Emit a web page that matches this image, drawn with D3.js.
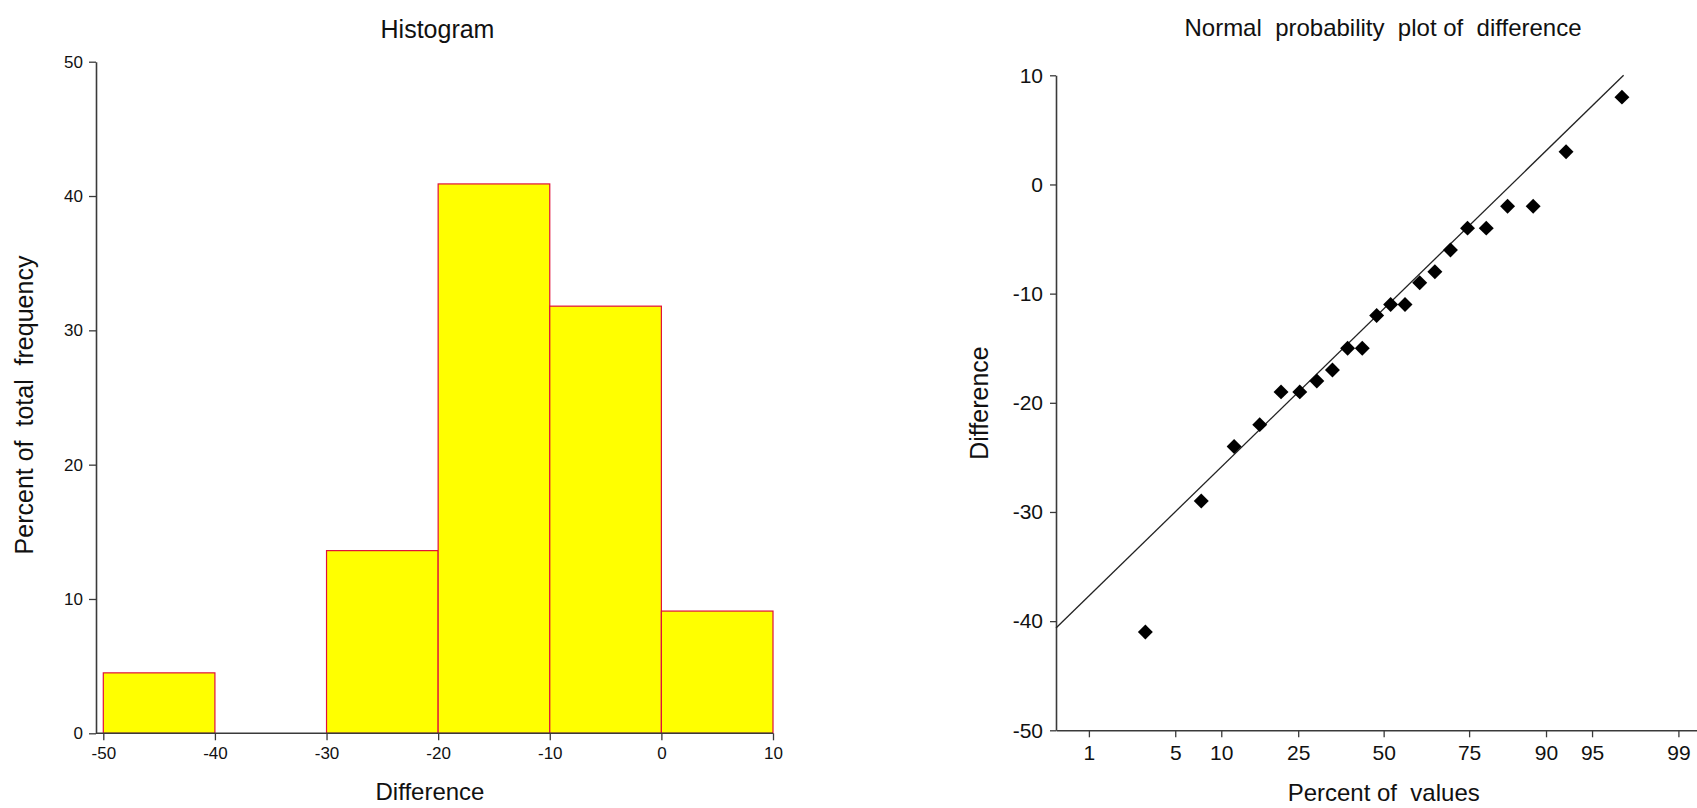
<!DOCTYPE html>
<html>
<head>
<meta charset="utf-8">
<script src="https://cdn.jsdelivr.net/npm/d3@7"></script>
<style>
  html, body { margin: 0; padding: 0; background: #fff; }
  svg { display: block; font-family: "Liberation Sans", Arial, sans-serif; }
  text { white-space: pre; }
</style>
</head>
<body>
<svg id="chart" width="1697" height="808"></svg>
<script>
// ---------- Data ----------
const binStarts = [-50, -40, -30, -20, -10, 0];
const binWidth = 10;
const binPercents = [4.5, 0, 13.6, 40.9, 31.8, 9.1];
const histXTicks = [-50, -40, -30, -20, -10, 0, 10];
const histYTicks = [0, 10, 20, 30, 40, 50];

const differences = [-41, -29, -24, -22, -19, -19, -18, -17, -15, -15, -12, -11, -11, -9, -8, -6, -4, -4, -2, -2, 3, 8];
const percentOfValues = [3.0, 7.5, 11.9, 16.4, 20.9, 25.4, 29.9, 34.3, 38.8, 43.3, 47.8, 52.2, 56.7, 61.2, 65.7, 70.1, 74.6, 79.1, 83.6, 88.1, 92.5, 97.0];
const probXTicks = [1, 5, 10, 25, 50, 75, 90, 95, 99];
const probYTicks = [-50, -40, -30, -20, -10, 0, 10];
const lineMean = -11.4;
const lineSD = 11.3;

// ---------- helpers ----------
function probit(p) {
  const a = [-3.969683028665376e+01, 2.209460984245205e+02, -2.759285104469687e+02, 1.383577518672690e+02, -3.066479806614716e+01, 2.506628277459239e+00];
  const b = [-5.447609879822406e+01, 1.615858368580409e+02, -1.556989798598866e+02, 6.680131188771972e+01, -1.328068155288572e+01];
  const c = [-7.784894002430293e-03, -3.223964580411365e-01, -2.400758277161838e+00, -2.549732539343734e+00, 4.374664141464968e+00, 2.938163982698783e+00];
  const d = [7.784695709041462e-03, 3.224671290700398e-01, 2.445134137142996e+00, 3.754408661907416e+00];
  const plow = 0.02425;
  let q, r;
  if (p < plow) {
    q = Math.sqrt(-2 * Math.log(p));
    return (((((c[0]*q+c[1])*q+c[2])*q+c[3])*q+c[4])*q+c[5]) / ((((d[0]*q+d[1])*q+d[2])*q+d[3])*q+1);
  } else if (p <= 1 - plow) {
    q = p - 0.5; r = q*q;
    return (((((a[0]*r+a[1])*r+a[2])*r+a[3])*r+a[4])*r+a[5])*q / (((((b[0]*r+b[1])*r+b[2])*r+b[3])*r+b[4])*r+1);
  } else {
    q = Math.sqrt(-2 * Math.log(1 - p));
    return -(((((c[0]*q+c[1])*q+c[2])*q+c[3])*q+c[4])*q+c[5]) / ((((d[0]*q+d[1])*q+d[2])*q+d[3])*q+1);
  }
}

const svg = d3.select("#chart");
const axisColor = "#3a3a3a";
const plain = d => String(d);

function styleAxis(g, fontSize, family) {
  g.select(".domain").attr("stroke", axisColor).attr("stroke-width", 1.6);
  g.selectAll(".tick line").attr("stroke", axisColor).attr("stroke-width", 1.3);
  g.selectAll(".tick text").attr("fill", "#111").style("font-size", fontSize + "px")
    .style("font-family", family);
}

// ---------- Histogram ----------
const hx = d3.scaleLinear().domain([-50, 10]).range([103.3, 773]);
const hy = d3.scaleLinear().domain([0, 50]).range([733.3, 61.7]);
const hAxisLeftX = 96;

const hg = svg.append("g");

hg.selectAll("rect.bar")
  .data(binStarts.map((s, i) => ({ s, v: binPercents[i] })).filter(d => d.v > 0))
  .join("rect")
  .attr("class", "bar")
  .attr("x", d => hx(d.s))
  .attr("width", d => hx(d.s + binWidth) - hx(d.s))
  .attr("y", d => hy(d.v))
  .attr("height", d => hy(0) - hy(d.v))
  .attr("fill", "#ffff00")
  .attr("stroke", "#e0103a")
  .attr("stroke-width", 1.2);

// y axis
const hyAxis = hg.append("g")
  .attr("transform", `translate(${hAxisLeftX},0)`)
  .call(d3.axisLeft(hy).tickValues(histYTicks).tickFormat(plain).tickSize(7).tickPadding(6).tickSizeOuter(0));
styleAxis(hyAxis, 17, '"Liberation Sans Narrow", "Arial Narrow", "Liberation Sans", sans-serif');

// x axis
const hxAxis = hg.append("g")
  .attr("transform", `translate(0,${hy(0)})`)
  .call(d3.axisBottom(hx).tickValues(histXTicks).tickFormat(plain).tickSize(7).tickPadding(7).tickSizeOuter(0));
hxAxis.select(".domain").attr("d", `M${hAxisLeftX},0H${hx(10)}`);
styleAxis(hxAxis, 17, '"Liberation Sans Narrow", "Arial Narrow", "Liberation Sans", sans-serif');

hg.append("text").attr("x", 437.5).attr("y", 38).attr("text-anchor", "middle")
  .style("font-size", "25px").attr("fill", "#111").text("Histogram");
hg.append("text").attr("x", 430).attr("y", 800).attr("text-anchor", "middle")
  .style("font-size", "24px").attr("fill", "#111").text("Difference");
hg.append("text").attr("transform", "translate(33,405) rotate(-90)").attr("text-anchor", "middle")
  .style("font-size", "25px").attr("fill", "#111").text("Percent of  total  frequency");

// ---------- Normal probability plot ----------
const zScale = d3.scaleLinear().domain([-2.586, 2.586]).range([1056, 1711.3]);
const px = p => zScale(probit(p / 100));
const py = d3.scaleLinear().domain([-50, 10]).range([730.3, 75.3]);

const pg = svg.append("g");

const pyAxis = pg.append("g")
  .attr("transform", `translate(${zScale.range()[0]},0)`)
  .call(d3.axisLeft(py).tickValues(probYTicks).tickFormat(plain).tickSize(6).tickPadding(7).tickSizeOuter(0));
styleAxis(pyAxis, 21, '"Liberation Sans", Arial, sans-serif');

const pxAxis = pg.append("g")
  .attr("transform", `translate(0,${py(-50)})`)
  .call(d3.axisBottom(zScale).tickValues(probXTicks.map(p => probit(p / 100)))
    .tickFormat((z, i) => String(probXTicks[i])).tickSize(7).tickPadding(8).tickSizeOuter(0));
styleAxis(pxAxis, 21, '"Liberation Sans", Arial, sans-serif');

// fitted line
const zStart = zScale.domain()[0];
const zEnd = (py.domain()[1] - lineMean) / lineSD;
pg.append("line")
  .attr("x1", zScale(zStart)).attr("y1", py(lineMean + lineSD * zStart))
  .attr("x2", zScale(zEnd)).attr("y2", py(lineMean + lineSD * zEnd))
  .attr("stroke", "#222").attr("stroke-width", 1.3);

// points
const diamond = d3.symbol().type(d3.symbolSquare).size(112);
pg.selectAll("path.pt")
  .data(differences.map((v, i) => ({ v, p: percentOfValues[i] })))
  .join("path")
  .attr("class", "pt")
  .attr("d", diamond)
  .attr("transform", d => `translate(${px(d.p)},${py(d.v)}) rotate(45)`)
  .attr("fill", "#000");

pg.append("text").attr("x", 1383).attr("y", 36).attr("text-anchor", "middle")
  .style("font-size", "24px").attr("fill", "#111").text("Normal  probability  plot of  difference");
pg.append("text").attr("x", 1383.7).attr("y", 801).attr("text-anchor", "middle")
  .style("font-size", "24px").attr("fill", "#111").text("Percent of  values");
pg.append("text").attr("transform", "translate(988,403) rotate(-90)").attr("text-anchor", "middle")
  .style("font-size", "25px").attr("fill", "#111").text("Difference");
</script>
</body>
</html>
